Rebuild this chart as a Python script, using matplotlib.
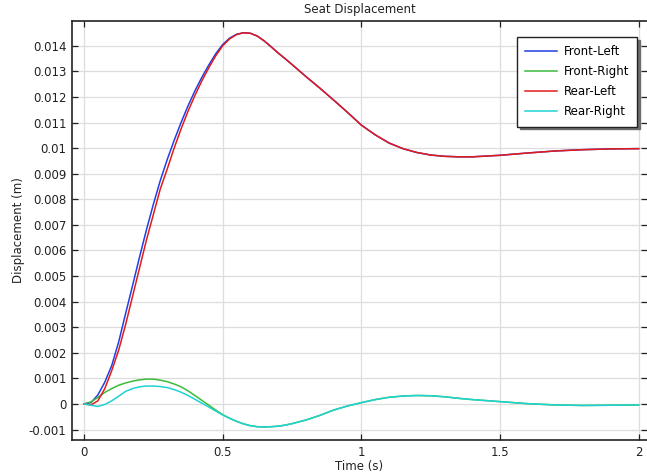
import matplotlib
matplotlib.use("Agg")
import matplotlib.pyplot as plt
from matplotlib.ticker import FuncFormatter, MultipleLocator

time = [0, 0.025, 0.05, 0.075, 0.1, 0.125, 0.15, 0.175, 0.2, 0.225, 0.25, 0.275, 0.3,
        0.325, 0.35, 0.375, 0.4, 0.425, 0.45, 0.475, 0.5, 0.525, 0.55, 0.575, 0.6,
        0.625, 0.65, 0.675, 0.7, 0.725, 0.75, 0.8, 0.85, 0.9, 0.95, 1.0,
        1.05, 1.1, 1.15, 1.2, 1.25, 1.3, 1.35, 1.4, 1.5, 1.6, 1.7, 1.8, 1.9, 2.0]

front_left = [0, 0.00005, 0.00035, 0.00085, 0.0015, 0.00242, 0.00353, 0.00462, 0.00573,
              0.0068, 0.0078, 0.00873, 0.00955, 0.0103, 0.011, 0.01165, 0.01224,
              0.01277, 0.01325, 0.01369, 0.01405, 0.0143, 0.01445, 0.01451, 0.01449,
              0.01438, 0.01419, 0.01396, 0.01372, 0.0135, 0.01327, 0.0128, 0.01235,
              0.01188, 0.0114, 0.0109, 0.01052, 0.0102, 0.00998, 0.00983, 0.00973,
              0.00968, 0.00966, 0.00966, 0.00972, 0.00981, 0.00989, 0.00994, 0.00997,
              0.00998]

rear_left = [0, -0.00004, 0.00012, 0.0006, 0.0013, 0.0021, 0.0031, 0.0042, 0.0053,
             0.0064, 0.0074, 0.0084, 0.00918, 0.01, 0.01075, 0.01144, 0.01206,
             0.01263, 0.01314, 0.01361, 0.014, 0.01427, 0.01444, 0.01451, 0.01449,
             0.01438, 0.01419, 0.01396, 0.01372, 0.0135, 0.01327, 0.0128, 0.01235,
             0.01188, 0.0114, 0.0109, 0.01052, 0.0102, 0.00998, 0.00983, 0.00973,
             0.00968, 0.00966, 0.00966, 0.00972, 0.00981, 0.00989, 0.00994, 0.00997,
             0.00998]

front_right = [0, 0.00008, 0.00025, 0.00045, 0.0006, 0.00073, 0.00082, 0.00089, 0.00094,
               0.00097, 0.00097, 0.00093, 0.00087, 0.00078, 0.00067, 0.00051, 0.00033,
               0.00014, -0.00005, -0.00024, -0.00042, -0.00056, -0.00068, -0.00078,
               -0.00085, -0.00089, -0.0009, -0.00089, -0.00087, -0.00083, -0.00077,
               -0.00063, -0.00045, -0.00024, -0.00008, 0.00005, 0.00017, 0.00026,
               0.00031, 0.00033, 0.00032, 0.00028, 0.00022, 0.00017, 0.00009, 0.00001,
               -0.00004, -0.00006, -0.00005, -0.00004]

rear_right = [0, -0.00005, -0.0001, -0.00002, 0.00012, 0.0003, 0.00049, 0.0006, 0.00067,
              0.0007, 0.0007, 0.00068, 0.00064, 0.00056, 0.00046, 0.00033, 0.00018,
              0.00003, -0.00012, -0.00028, -0.00043, -0.00056, -0.00068, -0.00078,
              -0.00085, -0.00089, -0.0009, -0.00089, -0.00087, -0.00083, -0.00077,
              -0.00063, -0.00045, -0.00024, -0.00008, 0.00005, 0.00017, 0.00026,
              0.00031, 0.00033, 0.00032, 0.00028, 0.00022, 0.00017, 0.00009, 0.00001,
              -0.00004, -0.00006, -0.00005, -0.00004]

series = [("Front-Left", front_left, "#1f3fe6"),
          ("Front-Right", front_right, "#3cbb3c"),
          ("Rear-Left", rear_left, "#e41a1a"),
          ("Rear-Right", rear_right, "#1fd3d3")]

fig = plt.figure(figsize=(6.47, 4.75), dpi=100)
ax = fig.add_axes([72/647, 1-440/475, (647-72)/647, (440-21)/475])

for name, vals, col in series:
    ax.plot(time, vals, color=col, lw=1.1, label=name)

ax.set_xlim(-0.0432, 2.03)
ax.set_ylim(-0.00141, 0.01497)
ax.xaxis.set_major_locator(MultipleLocator(0.5))
ax.yaxis.set_major_locator(MultipleLocator(0.001))
fmt = FuncFormatter(lambda v, p: "0" if abs(v) < 1e-12 else ("%g" % round(v, 6)))
ax.xaxis.set_major_formatter(fmt)
ax.yaxis.set_major_formatter(fmt)

ax.grid(True, color="#dddddd", lw=0.9)
ax.set_axisbelow(True)
ax.tick_params(direction="in", length=4, width=0.9, top=True, right=True,
               labelsize=8.5, colors="#222222", pad=4)
for s in ["top", "left", "bottom"]:
    ax.spines[s].set_linewidth(1.2)
    ax.spines[s].set_color("#222222")
ax.spines["right"].set_visible(False)

ax.set_title("Seat Displacement", fontsize=8.5, pad=6, color="#222222")
ax.set_xlabel("Time (s)", fontsize=8.5, labelpad=1, color="#222222")
ax.set_ylabel("Displacement (m)", fontsize=8.5, labelpad=3, color="#222222")

leg = ax.legend(loc="upper right", bbox_to_anchor=(0.983, 0.962), fontsize=8.5,
                frameon=True, fancybox=False, shadow={"color": "#6e6e6e", "alpha": 1},
                handlelength=2.7, labelspacing=0.6, borderpad=0.7, handletextpad=0.55,
                borderaxespad=0)
leg.get_frame().set_edgecolor("#222222")
leg.get_frame().set_linewidth(1.0)

fig.savefig("out.png", dpi=100)
